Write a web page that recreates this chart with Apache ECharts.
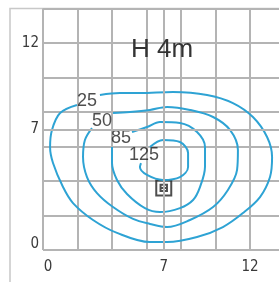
<!DOCTYPE html>
<html>
<head>
<meta charset="utf-8">
<script src="https://cdn.jsdelivr.net/npm/echarts@6/dist/echarts.min.js"></script>
<style>
html, body { margin: 0; padding: 0; background: #fff; }
#Chart { width: 279px; height: 282px; }
</style>
</head>
<body>
<div id="Chart"></div>
<script>
// 等照度曲线 H 4m
var titleText = "H 4m";
var xTicks = [0, 7, 12];
var yTicks = [0, 7, 12];
var levelNames = ["25", "50", "85", "125"];
var labelPos = [[2.55, 8.64], [3.42, 7.48], [4.52, 6.49], [5.86, 5.51]];
var lampPos = [[7.0, 3.6]];

var contour25 = [[3.30, 8.99], [4.46, 9.10], [5.62, 9.10], [7.54, 9.16], [9.51, 8.99], [11.01, 8.52],
    [12.17, 7.71], [12.99, 6.55], [13.28, 5.39], [13.16, 4.23], [12.58, 3.07], [11.59, 2.14],
    [10.43, 1.33], [8.93, 0.75], [7.19, 0.46], [6.20, 0.46], [4.29, 0.99], [2.90, 1.74],
    [1.74, 2.72], [1.16, 3.65], [0.58, 5.04], [0.41, 5.97], [0.52, 6.96], [0.99, 7.94], [1.97, 8.41]];
var contour50 = [[4.06, 7.94], [5.04, 8.00], [6.20, 8.12], [7.19, 8.29], [8.52, 8.12], [9.86, 7.71],
    [10.84, 6.96], [11.30, 5.80], [11.25, 4.64], [10.72, 3.48], [9.86, 2.49], [8.52, 1.74],
    [7.19, 1.33], [6.20, 1.51], [5.22, 1.80], [4.06, 2.49], [3.13, 3.30], [2.55, 4.23],
    [2.32, 5.39], [2.43, 6.38], [2.84, 7.07]];
var contour85 = [[5.16, 6.84], [6.03, 7.13], [6.78, 7.42], [7.94, 7.36], [8.93, 6.84], [9.39, 5.97],
    [9.39, 4.81], [9.10, 3.65], [8.70, 2.90], [7.94, 2.43], [6.78, 2.20], [5.91, 2.43],
    [4.87, 3.25], [4.29, 4.06], [4.00, 5.04], [4.00, 5.97]];
var contour125 = [[6.20, 5.97], [6.96, 6.38], [7.94, 6.26], [8.41, 5.62], [8.41, 4.81], [7.94, 4.23],
    [6.96, 4.06], [6.03, 4.35], [5.62, 4.81], [5.68, 5.04]];

var lineColor = "#2ea3d4";
var gridColor = "#b4b4b4";
var textColor = "#3a3a3a";
var axisFont = '"Liberation Sans Narrow", "DejaVu Sans Condensed", sans-serif';

function tickFormatter(ticks, axis) {
    return function (value) {
        if (ticks.indexOf(value) < 0) return "";
        if (value === 0) return "{zero" + axis + "|0}";
        return "{n|" + value + "}";
    };
}

function contourSeries(data) {
    return {
        type: "line",
        data: data,
        smooth: 0.35,
        showSymbol: false,
        silent: true,
        lineStyle: { color: lineColor, width: 2 }
    };
}

var myChart = echarts.init(document.getElementById("Chart"));
var option = {
    animation: false,
    title: {
        text: titleText,
        left: 126,
        top: 32,
        textStyle: { fontSize: 26, fontWeight: "normal", color: "#333", fontFamily: "Liberation Sans" }
    },
    graphic: [{
        type: "rect",
        shape: { x: 10, y: 8.5, width: 300, height: 300 },
        style: { fill: "none", stroke: "#c8c8c8", lineWidth: 1.5 },
        silent: true
    }],
    // 网格比画布宽，右侧被裁掉
    grid: { left: 43, top: 8.5, width: 241.5, height: 241.5, outerBoundsMode: "none" },
    xAxis: [{
        type: "value", min: 0, max: 14, interval: 2,
        axisLine: { show: false }, axisTick: { show: false }, axisLabel: { show: false },
        splitLine: { show: true, lineStyle: { color: gridColor, width: 2 } }
    }, {
        type: "value", min: 0, max: 14, interval: 1, position: "bottom",
        axisLine: { show: false }, axisTick: { show: false }, splitLine: { show: false },
        axisLabel: {
            margin: 10, fontSize: 15, color: textColor, fontFamily: axisFont,
            formatter: tickFormatter(xTicks, "x"),
            rich: {
                n: { fontSize: 15, color: textColor, fontFamily: axisFont },
                zerox: { fontSize: 15, color: textColor, fontFamily: axisFont, padding: [0, 0, 0, 10] }
            }
        }
    }],
    yAxis: [{
        type: "value", min: 0, max: 14, interval: 2,
        axisLine: { show: false }, axisTick: { show: false }, axisLabel: { show: false },
        splitLine: { show: true, lineStyle: { color: gridColor, width: 2 } }
    }, {
        type: "value", min: 0, max: 14, interval: 1, position: "left",
        axisLine: { show: false }, axisTick: { show: false }, splitLine: { show: false },
        axisLabel: {
            margin: 4, fontSize: 15, color: textColor, fontFamily: axisFont,
            formatter: tickFormatter(yTicks, "y"),
            rich: {
                n: { fontSize: 15, color: textColor, fontFamily: axisFont },
                zeroy: { fontSize: 15, color: textColor, fontFamily: axisFont, padding: [0, 0, 12, 0] }
            }
        }
    }],
    series: [
        contourSeries(contour25),
        contourSeries(contour50),
        contourSeries(contour85),
        contourSeries(contour125),
        {
            type: "scatter",
            data: labelPos.map(function (p, i) { return { value: p, name: levelNames[i] }; }),
            symbolSize: 0,
            silent: true,
            label: {
                show: true, position: "inside", formatter: "{b}",
                fontSize: 18, color: "#222", fontFamily: "Liberation Sans"
            }
        },
        {
            type: "scatter",
            data: lampPos,
            symbol: "path://M0,0L14,0L14,14L0,14ZM4,4L10,4L10,10L4,10ZM4,7L10,7",
            symbolSize: 15,
            silent: true,
            itemStyle: { color: "transparent", borderColor: "#222", borderWidth: 2 },
            markLine: {
                silent: true,
                symbol: "none",
                label: { show: false },
                lineStyle: { color: gridColor, width: 2, type: "solid" },
                data: [{ xAxis: 7 }, { yAxis: 7 }]
            }
        }
    ]
};
myChart.setOption(option);
window.addEventListener("resize", function () {
    myChart.resize();
});
</script>
</body>
</html>
